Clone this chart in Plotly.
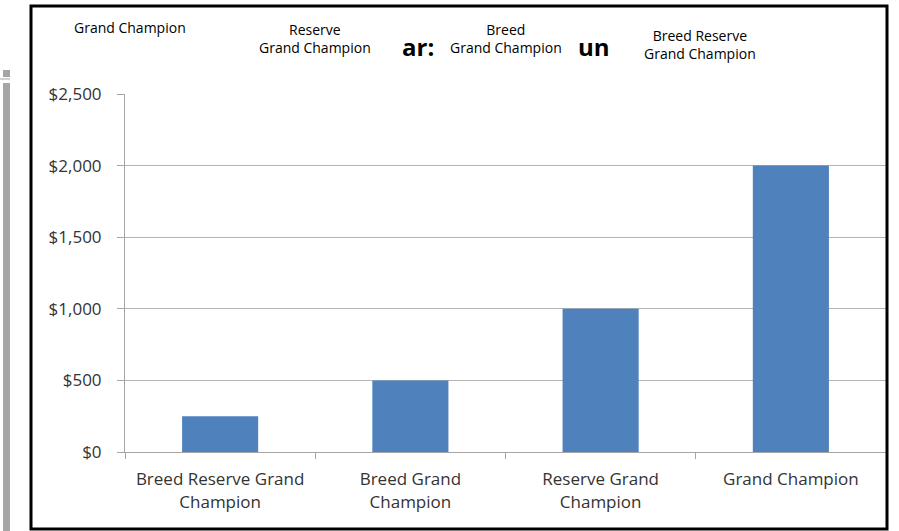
import plotly.graph_objects as go

categories = ["Breed Reserve Grand<br>Champion", "Breed Grand<br>Champion",
              "Reserve Grand<br>Champion", "Grand Champion"]
values = [250, 500, 1000, 2000]
tick_vals = [0, 500, 1000, 1500, 2000, 2500]
tick_text = ["$0", "$500", "$1,000", "$1,500", "$2,000", "$2,500"]

W, H = 899, 531
L, R, T, B = 125, 13, 94, 79
pw = W - L - R
ph = H - T - B

def px(x):
    return (x - L) / pw

def py(y):
    return (H - B - y) / ph

fig = go.Figure(go.Bar(x=categories, y=values, width=0.4,
                       marker=dict(color="#4f81bd", line=dict(width=0))))

font_family = "Open Sans"
fig.update_layout(
    width=W, height=H,
    margin=dict(l=L, r=R, t=T, b=B),
    paper_bgcolor="white", plot_bgcolor="white",
    showlegend=False,
    font=dict(family=font_family, color="#333333"),
    xaxis=dict(showgrid=False, showline=True, linecolor="#a6a6a6", linewidth=1,
               ticks="outside", tickson="boundaries", ticklen=6, tickcolor="#a6a6a6",
               ticklabelstandoff=12,
               tickfont=dict(size=17, family=font_family, color="#333333")),
    yaxis=dict(range=[0, 2500], tickvals=tick_vals, ticktext=tick_text,
               showgrid=True, gridcolor="#b3b3b3", gridwidth=1,
               showline=True, linecolor="#a6a6a6", linewidth=1,
               ticks="outside", ticklen=7, tickcolor="#a6a6a6",
               ticklabelstandoff=12,
               tickfont=dict(size=17, family=font_family, color="#333333"),
               zeroline=False),
)

shapes = [
    dict(type="rect", xref="paper", yref="paper", x0=px(31), x1=px(887), y0=py(529), y1=py(6),
         line=dict(color="black", width=3), fillcolor="rgba(0,0,0,0)", layer="above"),
    dict(type="rect", xref="paper", yref="paper", x0=px(3), x1=px(10), y0=py(531), y1=py(83),
         line=dict(width=0), fillcolor="#a6a6a6"),
    dict(type="rect", xref="paper", yref="paper", x0=px(3), x1=px(10), y0=py(77), y1=py(70),
         line=dict(width=0), fillcolor="#a6a6a6"),
    dict(type="line", xref="paper", yref="paper", x0=px(0), x1=px(10), y0=py(79), y1=py(79),
         line=dict(color="#a6a6a6", width=1)),
]
fig.update_layout(shapes=shapes)

anns = [
    ("Grand Champion", 130, 28, 14, False),
    ("Reserve<br>Grand Champion", 315, 39, 14, False),
    ("ar:", 418, 47, 24, True),
    ("Breed<br>Grand Champion", 506, 39, 14, False),
    ("un", 594, 47, 24, True),
    ("Breed Reserve<br>Grand Champion", 700, 45, 14, False),
]
for text, x, y, size, bold in anns:
    fig.add_annotation(text=f"<b>{text}</b>" if bold else text, xref="paper", yref="paper",
                       x=px(x), y=py(y), xanchor="center", yanchor="middle",
                       showarrow=False, align="center",
                       font=dict(size=size, family=font_family, color="black"))

fig.write_html("out.html", config={"displayModeBar": False},
               post_script="document.body.style.margin='0';document.body.style.overflow='hidden';")
